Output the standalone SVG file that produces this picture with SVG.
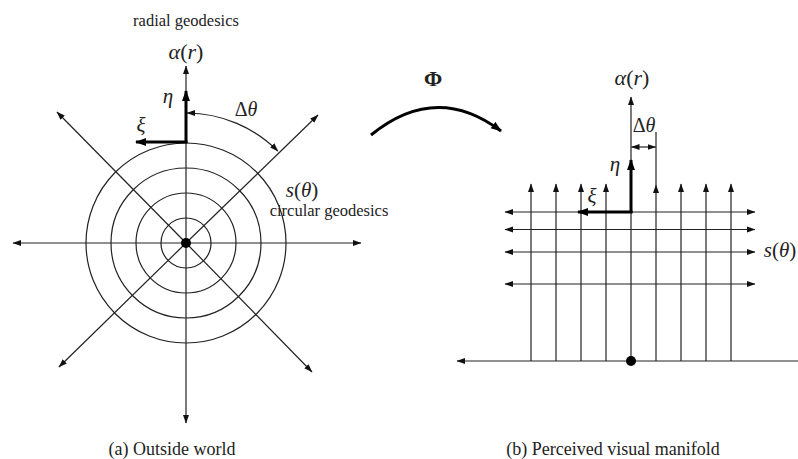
<svg xmlns="http://www.w3.org/2000/svg" width="798" height="459" viewBox="0 0 798 459">
<defs>
<marker id="ah" markerUnits="userSpaceOnUse" markerWidth="9" markerHeight="7" refX="8" refY="3.5" orient="auto-start-reverse" viewBox="0 0 9 7">
<path d="M0,0.5 L8.5,3.5 L0,6.5 z" fill="#111"/>
</marker>
<marker id="ahb" markerUnits="userSpaceOnUse" markerWidth="12" markerHeight="9" refX="10" refY="4.5" orient="auto-start-reverse" viewBox="0 0 12 9">
<path d="M0,0.5 L11,4.5 L0,8.5 z" fill="#000"/>
</marker>
<style>
.ln{stroke:#222;stroke-width:1.2;fill:none}
.ar{stroke:#222;stroke-width:1.2;fill:none;marker-end:url(#ah)}
.da{stroke:#222;stroke-width:1.2;fill:none;marker-start:url(#ah);marker-end:url(#ah)}
.th{stroke:#000;stroke-width:3;fill:none;marker-end:url(#ahb)}
.t{font-family:"Liberation Serif","Times New Roman",serif;fill:#222}
.m{font-family:"Liberation Serif","Times New Roman",serif;font-style:italic;fill:#222}
.up{font-style:normal}
</style>
</defs>
<rect width="798" height="459" fill="#fff"/>

<g id="outside-world">
<g id="circles" class="ln">
<circle cx="186" cy="243" r="25"/>
<circle cx="186" cy="243" r="50"/>
<circle cx="186" cy="243" r="75"/>
<circle cx="186" cy="243" r="100"/>
</g>
<g id="radial-geodesics">
<line class="ar" x1="186" y1="243" x2="186" y2="66"/>
<line class="ar" x1="186" y1="243" x2="186" y2="423"/>
<line class="ar" x1="186" y1="243" x2="13" y2="243"/>
<line class="ar" x1="186" y1="243" x2="361" y2="243"/>
<line class="ar" x1="186" y1="243" x2="57" y2="112"/>
<line class="ar" x1="186" y1="243" x2="318" y2="115"/>
<line class="ar" x1="186" y1="243" x2="59" y2="367"/>
<line class="ar" x1="186" y1="243" x2="312" y2="372"/>
</g>
<path id="delta-theta-arc" class="da" d="M187,113 A130,130 0 0 1 277.9,151.1"/>
<g id="frame-left">
<line class="th" x1="186" y1="143" x2="186" y2="91"/>
<line class="th" x1="187.5" y1="142" x2="136" y2="142"/>
</g>
<circle cx="186" cy="243" r="5" fill="#000"/>
<text class="t" x="186" y="26" font-size="16.5" text-anchor="middle">radial geodesics</text>
<text class="m" x="186" y="59" font-size="22" text-anchor="middle">α<tspan class="up">(</tspan>r<tspan class="up">)</tspan></text>
<text class="m" x="168" y="103" font-size="21" text-anchor="middle">η</text>
<text class="m" x="141" y="132" font-size="21" text-anchor="middle">ξ</text>
<text class="m" x="246" y="116" font-size="20" text-anchor="middle"><tspan class="up">Δ</tspan>θ</text>
<text class="m" x="302" y="197" font-size="21" text-anchor="middle">s<tspan class="up">(</tspan>θ<tspan class="up">)</tspan></text>
<text class="t" x="329" y="216" font-size="16.5" text-anchor="middle">circular geodesics</text>
<text class="t" x="172" y="455" font-size="18" text-anchor="middle">(a) Outside world</text>
</g>

<g id="phi-map">
<path class="th" d="M371,135 Q436,82 501,131"/>
<text class="t" x="433" y="86" font-size="22" font-weight="bold" text-anchor="middle">Φ</text>
</g>

<g id="perceived-manifold">
<g id="horizontal-geodesics">
<line class="da" x1="505" y1="212" x2="755" y2="212"/>
<line class="da" x1="505" y1="229.5" x2="755" y2="229.5"/>
<line class="da" x1="505" y1="252" x2="755" y2="252"/>
<line class="da" x1="505" y1="284" x2="755" y2="284"/>
</g>
<g id="vertical-geodesics">
<line class="ar" x1="531" y1="361" x2="531" y2="184"/>
<line class="ar" x1="556" y1="361" x2="556" y2="184"/>
<line class="ar" x1="581" y1="361" x2="581" y2="184"/>
<line class="ar" x1="606" y1="361" x2="606" y2="184"/>
<line class="ar" x1="631" y1="361" x2="631" y2="97"/>
<line class="ar" x1="656" y1="361" x2="656" y2="185"/>
<line class="ln" x1="656" y1="185" x2="656" y2="132"/>
<line class="ar" x1="681" y1="361" x2="681" y2="184"/>
<line class="ar" x1="706" y1="361" x2="706" y2="184"/>
<line class="ar" x1="731" y1="361" x2="731" y2="184"/>
</g>
<line id="base-line" class="ln" x1="798" y1="361" x2="457" y2="361" style="marker-end:url(#ah)"/>
<line id="delta-theta-dim" class="da" x1="631.5" y1="147" x2="655.5" y2="147"/>
<g id="frame-right">
<line class="th" x1="631" y1="213" x2="631" y2="160"/>
<line class="th" x1="632.5" y1="212" x2="578" y2="212"/>
</g>
<circle cx="631" cy="361" r="5" fill="#000"/>
<text class="m" x="632" y="85" font-size="22" text-anchor="middle">α<tspan class="up">(</tspan>r<tspan class="up">)</tspan></text>
<text class="m" x="644" y="132" font-size="20" text-anchor="middle"><tspan class="up">Δ</tspan>θ</text>
<text class="m" x="615" y="171" font-size="21" text-anchor="middle">η</text>
<text class="m" x="592" y="203" font-size="21" text-anchor="middle">ξ</text>
<text class="m" x="780" y="257" font-size="21" text-anchor="middle">s<tspan class="up">(</tspan>θ<tspan class="up">)</tspan></text>
<text class="t" x="613" y="455" font-size="18" text-anchor="middle">(b) Perceived visual manifold</text>
</g>
</svg>
